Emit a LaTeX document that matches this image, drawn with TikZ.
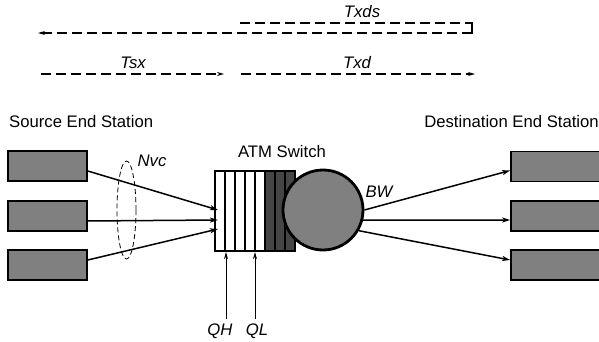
\documentclass[tikz,border=0pt]{standalone}
\usepackage{fontspec}
\setmainfont{Liberation Sans}
\usetikzlibrary{positioning,arrows.meta}
\definecolor{boxgray}{gray}{0.5}
\definecolor{darkstripe}{gray}{0.27}
\tikzset{
  station/.style={draw,line width=1.6pt,fill=boxgray,minimum height=30pt,inner sep=0pt},
  flow/.style={line width=1.5pt,-{Stealth[length=8pt,width=5pt,inset=2pt]}},
  timing/.style={line width=1.5pt,dash pattern=on 10pt off 5pt,-{Stealth[length=7pt,width=4pt]}},
  probe/.style={line width=0.8pt,-{Stealth[length=7pt,width=4pt]}},
  lbl/.style={inner sep=0pt,font=\fontsize{16.7}{20}\selectfont},
}

\begin{document}
\begin{tikzpicture}[x=1pt,y=-1pt]
\useasboundingbox (0,0) rectangle (599,342);

\coordinate (d0) at (240,23); \coordinate (d1) at (472,23);
\coordinate (d2) at (472,33); \coordinate (d3) at (38,33);
\draw[line width=1.5pt,dash pattern=on 10pt off 5pt] (d0) -- (d1);
\draw[line width=1.5pt] ([xshift=-2pt]d1) -- (d1) -- (d2) -- ([xshift=-2pt]d2);
\draw[timing] (d2) -- (d3);
\node[lbl,anchor=base] (txds) at (362,18) {\itshape Txds};
\coordinate (s0) at (41,74); \coordinate (s1) at (224,74);
\coordinate (x0) at (241,74); \coordinate (x1) at (475,74);
\draw[timing] (s0) -- (s1);
\draw[timing] (x0) -- (x1);
\node[lbl,anchor=base] (tsx) at (133,69) {\itshape Tsx};
\node[lbl,anchor=base] (txd) at (357,69) {\itshape Txd};

\node[lbl,anchor=base west] (srclabel) at (9,128) {Source End Station};
\node[lbl,anchor=base east] (dstlabel) at (599,128) {Destination End Station};

\node[station,minimum width=79pt] (src1) at (47.5,166) {};
\node[station,minimum width=79pt] (src2) at (47.5,216) {};
\node[station,minimum width=79pt] (src3) at (47.5,265) {};
\node[station,minimum width=94pt] (dst1) at (558,166.5) {};
\node[station,minimum width=94pt] (dst2) at (558,216) {};
\node[station,minimum width=94pt] (dst3) at (558,265) {};

\fill[white] (215,171) rectangle (265,251);
\fill[darkstripe] (265,171) rectangle (295,251);
\foreach \x in {225,235,...,285} \draw[line width=1.3pt] (\x,171) -- (\x,251);
\node[draw,line width=2.2pt,minimum size=80pt,inner sep=0pt] (queue) at (255,211) {};
\node[circle,draw,line width=2.8pt,fill=boxgray,minimum size=80pt,inner sep=0pt] (sw) at (323,210) {};
\node[lbl,anchor=base] (atm) at (282,157) {ATM Switch};

\coordinate (in1) at (218,210); \coordinate (in2) at (218,220); \coordinate (in3) at (218,229);
\draw[flow] ([yshift=-5pt]src1.east) -- (in1);
\draw[flow] ([yshift=-5pt]src2.east) -- (in2);
\draw[flow] ([yshift=5pt]src3.east) -- (in3);
\draw[line width=0.8pt,dash pattern=on 5pt off 3pt] (126.5,210) ellipse [x radius=9.5pt,y radius=49pt];
\node[lbl,anchor=base] (nvc) at (152,166) {\itshape Nvc};

\draw[flow] (sw.east) -- ([yshift=-4pt]dst1.west);
\draw[flow] (sw.-14.5) -- ([yshift=-4pt]dst2.west);
\draw[flow] (sw.-30) -- ([yshift=5pt]dst3.west);
\node[lbl,anchor=base] (bw) at (379,197) {\itshape BW};

\coordinate (qh) at (226,319); \coordinate (ql) at (255,319);
\draw[probe] (qh) -- (qh |- queue.south);
\draw[probe] (ql) -- (ql |- queue.south);
\node[lbl,anchor=base] (qhl) at (220,335) {\itshape QH};
\node[lbl,anchor=base] (qll) at (257,335) {\itshape QL};
\end{tikzpicture}
\end{document}
